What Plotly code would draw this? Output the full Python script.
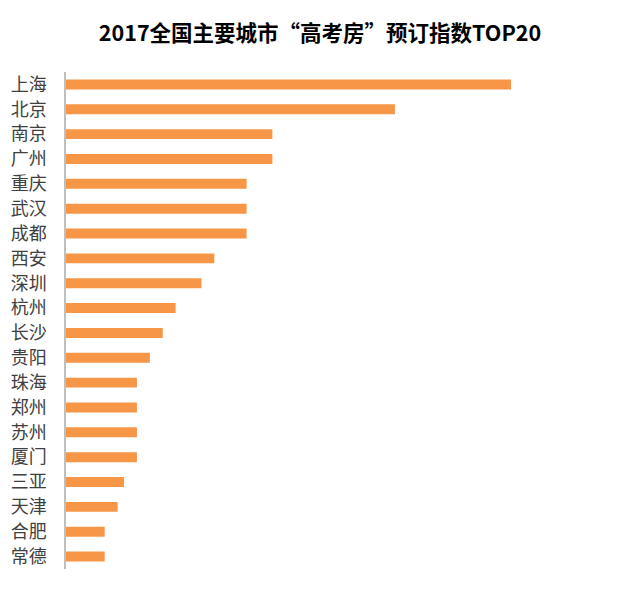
import plotly.graph_objects as go

cities = ['上海', '北京', '南京', '广州', '重庆', '武汉', '成都', '西安', '深圳', '杭州',
          '长沙', '贵阳', '珠海', '郑州', '苏州', '厦门', '三亚', '天津', '合肥', '常德']
index_values = [69, 51, 32, 32, 28, 28, 28, 23, 21, 17,
                15, 13, 11, 11, 11, 11, 9, 8, 6, 6]

# page body has an 8px margin, so the figure is drawn 8px smaller and offset
fig_w, fig_h = 632, 581
plot_w = 560
x_max = 69 * plot_w / 445

fig = go.Figure(go.Bar(
    x=index_values, y=cities, orientation='h',
    marker=dict(color='#F79646', line=dict(width=0)),
    hoverinfo='x+y',
))

fig.update_layout(
    width=fig_w, height=fig_h,
    margin=dict(l=58, r=fig_w - 58 - plot_w, t=64, b=20),
    paper_bgcolor='white', plot_bgcolor='white',
    bargap=0.6,
    showlegend=False,
    title=dict(text='<b>2017全国主要城市“高考房”预订指数TOP20</b>',
               x=312 / fig_w, xanchor='center', y=1 - 25 / fig_h, yanchor='middle',
               font=dict(family='Noto Sans CJK SC', size=21.5, color='#000000')),
)
fig.update_xaxes(range=[0, x_max], visible=False, fixedrange=True, automargin=False)
fig.update_yaxes(autorange='reversed', showgrid=False, showline=True, automargin=False,
                 linecolor='#BFBFBF', linewidth=1.5, ticks='', ticklabelstandoff=14,
                 tickfont=dict(family='Noto Sans CJK SC', size=18, color='#404040'),
                 fixedrange=True)

fig.write_html("out.html")
